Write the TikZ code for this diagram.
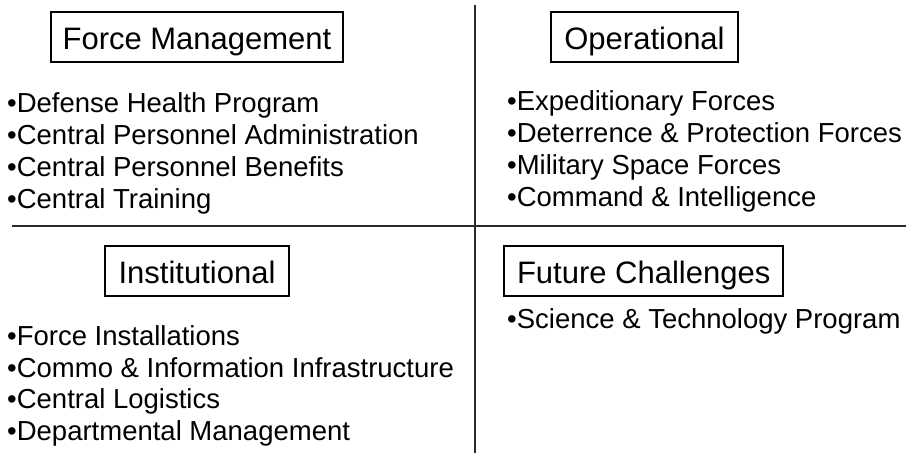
\documentclass[tikz,border=0pt]{standalone}
\usepackage{fontspec}
\setmainfont{Liberation Sans}
\definecolor{rule}{HTML}{2B2B2B}
\begin{document}
\begin{tikzpicture}[x=1pt,y=-1pt,
  hdr/.style={draw=black,line width=2pt,inner sep=0pt,text height=24pt,text depth=0pt,
    minimum height=50pt,font=\fontsize{31}{36}\selectfont},
  item/.style={anchor=base west,inner sep=0pt,font=\fontsize{27.5}{32}\selectfont},
  divider/.style={draw=rule,line width=2.3pt}]
\useasboundingbox (0,0) rectangle (906,453);
% dividers
\coordinate (vt) at (474.7,5);
\coordinate (vb) at (474.7,453);
\coordinate (hl) at (12,225.7);
\coordinate (hr) at (906,225.7);
\draw[divider] (vt) -- (vb);
\draw[divider] (hl) -- (hr);
% headers
\node[hdr,minimum width=292pt] (fm) at (197,37) {Force Management};
\node[hdr,minimum width=187pt] (op) at (644.5,37) {Operational};
\node[hdr,minimum width=184pt] (in) at (197,271) {Institutional};
\node[hdr,minimum width=279pt] (fc) at (643.7,271) {Future Challenges};
% force management items
\node[item] (fm1) at (7,112) {•Defense Health Program};
\node[item] (fm2) at (7,144) {•Central Personnel Administration};
\node[item] (fm3) at (7,176) {•Central Personnel Benefits};
\node[item] (fm4) at (7,208) {•Central Training};
% operational items
\node[item] (op1) at (507,110) {•Expeditionary Forces};
\node[item] (op2) at (507,142) {•Deterrence \& Protection Forces};
\node[item] (op3) at (507,174) {•Military Space Forces};
\node[item] (op4) at (507,206) {•Command \& Intelligence};
% institutional items
\node[item] (in1) at (7,345) {•Force Installations};
\node[item] (in2) at (7,377) {•Commo \& Information Infrastructure};
\node[item] (in3) at (7,408.5) {•Central Logistics};
\node[item] (in4) at (7,440) {•Departmental Management};
% future challenges items
\node[item] (fc1) at (507,328) {•Science \& Technology Program};
\end{tikzpicture}
\end{document}
